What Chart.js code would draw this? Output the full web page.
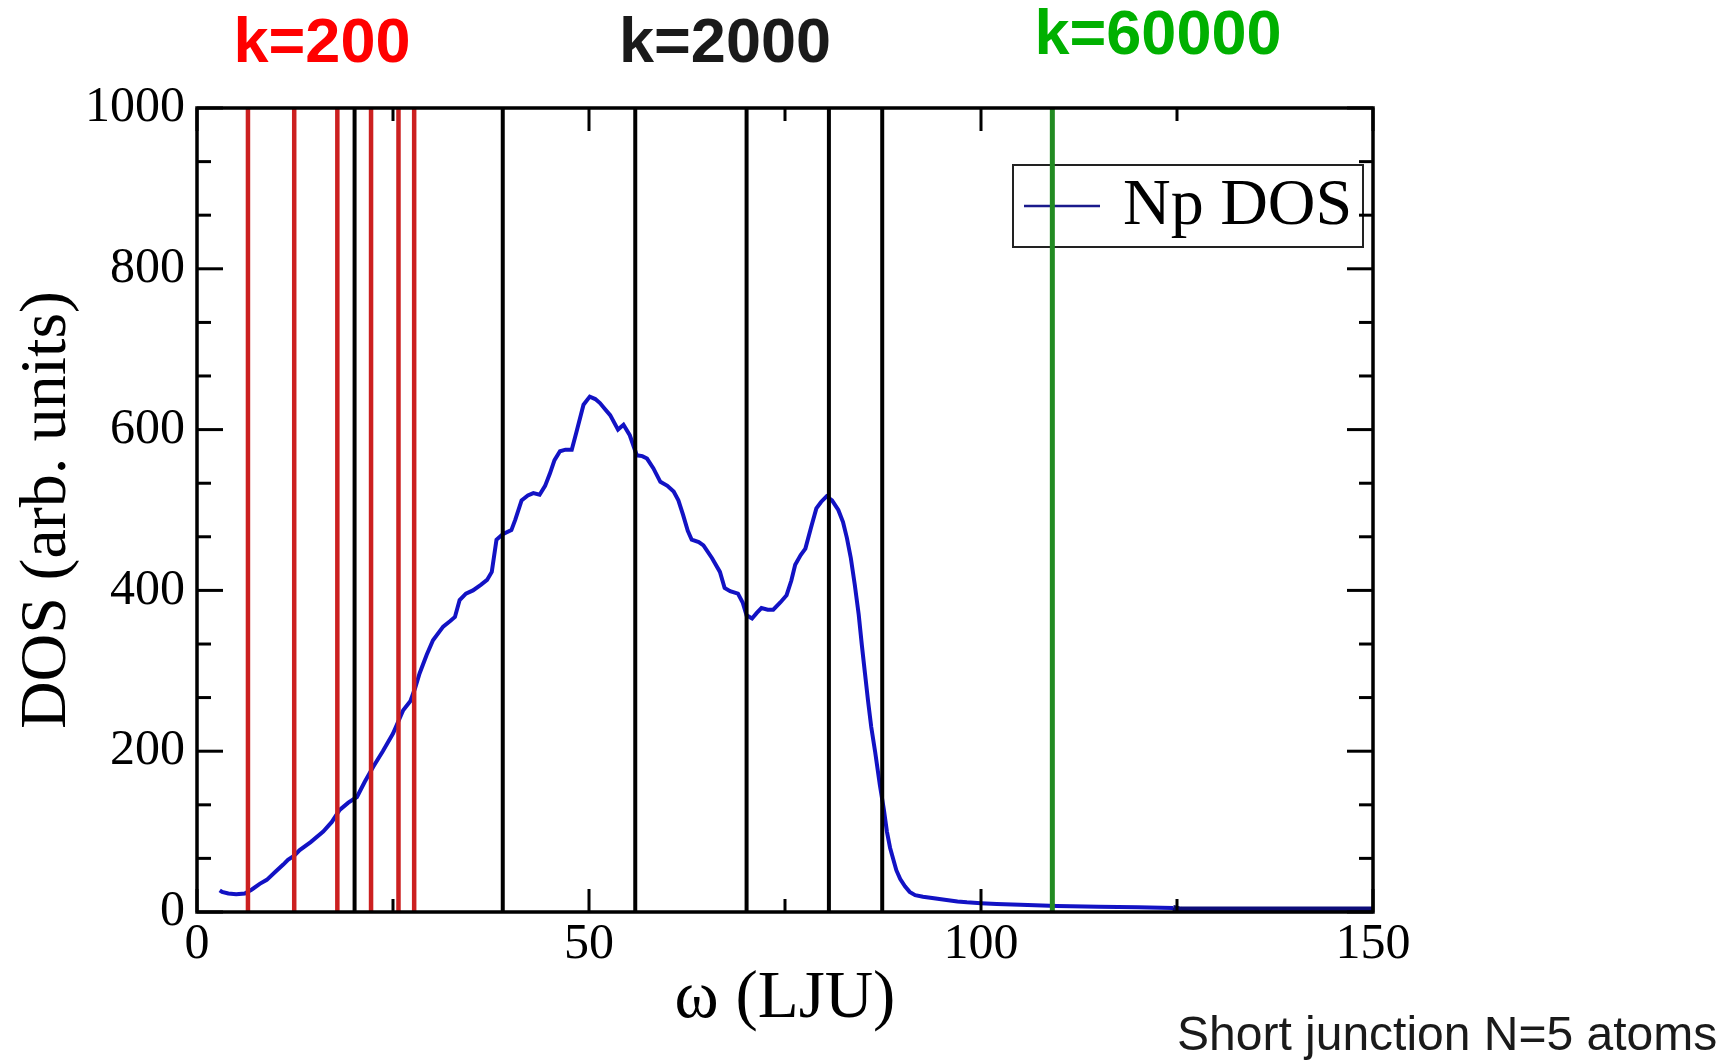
<!DOCTYPE html>
<html>
<head>
<meta charset="utf-8">
<title>Np DOS</title>
<script src="https://cdn.jsdelivr.net/npm/chart.js@4.4.1/dist/chart.umd.min.js"></script>
<style>
  html, body { margin: 0; padding: 0; background: #fff; }
  canvas { display: block; }
</style>
</head>
<body>
<canvas id="dosChart" width="1736" height="1061"></canvas>
<script>
// Np DOS curve: frequency (LJU) and density of states
const omega = [2.9, 3.2, 4.0, 5.0, 6.1, 7.0, 8.0, 8.9, 10.0, 11.0,
  11.6, 12.4, 13.1, 14.5, 16.1, 17.2, 18.2, 19.3, 20.4, 21.4,
  22.5, 23.7, 25.0, 26.3, 27.2, 27.8, 28.4, 29.3, 30.1, 31.4,
  32.3, 32.9, 33.5, 34.3, 35.2, 36.2, 37.0, 37.6, 38.2, 39.0,
  40.1, 40.6, 41.4, 42.2, 42.9, 43.7, 44.4, 45.0, 45.6, 46.3,
  47.0, 47.8, 48.4, 49.3, 50.1, 50.8, 51.4, 52.0, 52.7, 53.7,
  54.4, 55.2, 56.1, 56.8, 57.4, 58.2, 59.1, 60.0, 60.8, 61.4,
  62.0, 62.6, 63.1, 64.0, 64.6, 65.7, 66.7, 67.3, 68.0, 69.0,
  69.6, 70.1, 70.8, 71.4, 72.0, 72.8, 73.5, 74.4, 75.2, 75.8,
  76.3, 77.0, 77.6, 78.4, 79.0, 79.6, 80.3, 81.0, 81.8, 82.4,
  82.9, 83.4, 83.9, 84.4, 84.8, 85.2, 85.6, 86.0, 86.5, 87.1,
  87.6, 88.0, 88.4, 88.8, 89.2, 89.7, 90.3, 90.9, 91.6, 92.6,
  94.0, 95.6, 97.0, 98.2, 100, 102, 105, 109.7, 115, 120,
  124.5, 125.5, 135, 150]
const dos = [27, 25, 23, 22, 23, 28, 35, 40, 50, 59,
  65, 70, 77, 87, 100, 112, 127, 136, 143, 162,
  181, 200, 222, 251, 262, 278, 297, 320, 338, 355,
  362, 367, 388, 396, 400, 407, 413, 423, 463, 470,
  475, 488, 512, 518, 521, 519, 530, 545, 562, 573,
  575, 575, 597, 631, 641, 638, 633, 626, 618, 600,
  606, 593, 568, 567, 564, 552, 535, 530, 523, 512,
  494, 474, 463, 460, 456, 440, 423, 403, 399, 396,
  385, 369, 365, 372, 378, 376, 376, 385, 394, 412,
  432, 444, 452, 481, 502, 510, 517, 512, 500, 485,
  465, 440, 407, 370, 332, 297, 262, 230, 199, 158,
  128, 100, 80, 66, 52, 41, 32, 25, 21, 19,
  17, 15, 13, 12, 11, 10, 9, 7.5, 6.5, 6,
  5, 3, 3, 3]

// junction eigenfrequencies for each spring constant
const modesK200 = [6.5, 12.4, 17.9, 22.2, 25.7, 27.7]
const modesK2000 = [20.1, 39.0, 55.9, 70.1, 80.6, 87.4]
const modesK60000 = [109.1]

// axis ticks
const xTicks = [0, 50, 100, 150]
const xMinor = [25, 75, 125]
const yTicks = [0, 200, 400, 600, 800, 1000]
const yMinor = [66.7, 133.3, 266.7, 333.3, 466.7, 533.3, 666.7, 733.3, 866.7, 933.3]

const serif = '"Liberation Serif", "Times New Roman", serif'
const sans = '"Liberation Sans", Arial, sans-serif'

function modeLine(w, color, width){
  return {
    data: [{x: w, y: 0}, {x: w, y: 1000}],
    showLine: true,
    borderColor: color,
    borderWidth: width,
    pointRadius: 0,
    order: 0
  }
}

// frame, inward ticks, legend box and the k labels
const decor = {
  id: "decor",
  beforeDatasetsDraw(chart){
    const ctx = chart.ctx
    const a = chart.chartArea
    const bx = a.right - 360, by = a.top + 57
    ctx.save()
    ctx.strokeStyle = "#222"
    ctx.lineWidth = 2
    ctx.strokeRect(bx, by, 350, 82)
    ctx.strokeStyle = "#1a1a8c"
    ctx.lineWidth = 2.5
    ctx.beginPath()
    ctx.moveTo(bx + 11, by + 41)
    ctx.lineTo(bx + 87, by + 41)
    ctx.stroke()
    ctx.fillStyle = "#000"
    ctx.font = "66px " + serif
    ctx.textBaseline = "alphabetic"
    ctx.fillText("Np DOS", bx + 110, by + 59)
    ctx.restore()
  },
  afterDraw(chart){
    const ctx = chart.ctx
    const a = chart.chartArea
    const xs = chart.scales.x, ys = chart.scales.y
    ctx.save()
    ctx.strokeStyle = "#000"
    ctx.lineWidth = 3
    const tick = (x1, y1, x2, y2) => { ctx.beginPath(); ctx.moveTo(x1, y1); ctx.lineTo(x2, y2); ctx.stroke() }
    xTicks.forEach(v => { const p = xs.getPixelForValue(v); tick(p, a.bottom, p, a.bottom - 23); tick(p, a.top, p, a.top + 23) })
    xMinor.forEach(v => { const p = xs.getPixelForValue(v); tick(p, a.bottom, p, a.bottom - 13); tick(p, a.top, p, a.top + 13) })
    yTicks.forEach(v => { const p = ys.getPixelForValue(v); tick(a.left, p, a.left + 26, p); tick(a.right, p, a.right - 26, p) })
    yMinor.forEach(v => { const p = ys.getPixelForValue(v); tick(a.left, p, a.left + 14, p); tick(a.right, p, a.right - 14, p) })
    ctx.lineWidth = 3.5
    ctx.strokeRect(a.left, a.top, a.right - a.left, a.bottom - a.top)

    ctx.textAlign = "center"
    ctx.textBaseline = "alphabetic"
    ctx.font = "bold 63px " + sans
    ctx.fillStyle = "#ff0000"
    ctx.fillText("k=200", 322, 62)
    ctx.fillStyle = "#1a1a1a"
    ctx.fillText("k=2000", 725, 62)
    ctx.fillStyle = "#00b000"
    ctx.fillText("k=60000", 1158, 54)

    ctx.textAlign = "left"
    ctx.font = "48px " + sans
    ctx.fillStyle = "#1a1a1a"
    ctx.fillText("Short junction N=5 atoms", 1177, 1050)
    ctx.restore()
  }
}

const datasets = [{
  label: "Np DOS",
  data: omega.map((w, i) => ({x: w, y: dos[i]})),
  showLine: true,
  borderColor: "#1212c4",
  borderWidth: 4,
  pointRadius: 0,
  order: 5,
  // the flat high-frequency tail comes out darker and heavier
  segment: {
    borderColor: c => c.p0.parsed.x >= 124.5 ? "#0c0c78" : undefined,
    borderWidth: c => c.p0.parsed.x >= 124.5 ? 6 : undefined
  }
}]
modesK200.forEach(w => datasets.push(modeLine(w, "#cc2020", 4.5)))
modesK2000.forEach(w => datasets.push(modeLine(w, "#000000", 4)))
modesK60000.forEach(w => datasets.push(modeLine(w, "#228b22", 5)))

const dosChart = new Chart("dosChart", {
  type: "scatter",
  data: { datasets: datasets },
  plugins: [decor],
  options: {
    responsive: false,
    animation: false,
    devicePixelRatio: 1,
    layout: { padding: { left: 0, top: 108, right: 363, bottom: 0 } },
    plugins: { legend: { display: false }, tooltip: { enabled: false } },
    scales: {
      x: {
        type: "linear", min: 0, max: 150,
        afterBuildTicks: s => { s.ticks = xTicks.map(v => ({value: v})) },
        afterFit: s => { s.height = 149 },
        grid: { display: false, drawTicks: false },
        border: { display: false },
        ticks: { autoSkip: false, maxRotation: 0, padding: 3, color: "#000",
          font: { family: serif, size: 50 }, callback: v => String(v) },
        title: { display: true, text: "ω (LJU)", color: "#000",
          font: { family: serif, size: 67 }, padding: { top: 0, bottom: 21 } }
      },
      y: {
        type: "linear", min: 0, max: 1000,
        afterBuildTicks: s => { s.ticks = yTicks.map(v => ({value: v})) },
        afterFit: s => { s.width = 197 },
        grid: { display: false, drawTicks: false },
        border: { display: false },
        ticks: { autoSkip: false, padding: 12, color: "#000",
          font: { family: serif, size: 50 }, callback: v => String(v) },
        title: { display: true, text: "DOS (arb. units)", color: "#000",
          font: { family: serif, size: 66 }, padding: { top: 8, bottom: 0 } }
      }
    }
  }
})
</script>
</body>
</html>
